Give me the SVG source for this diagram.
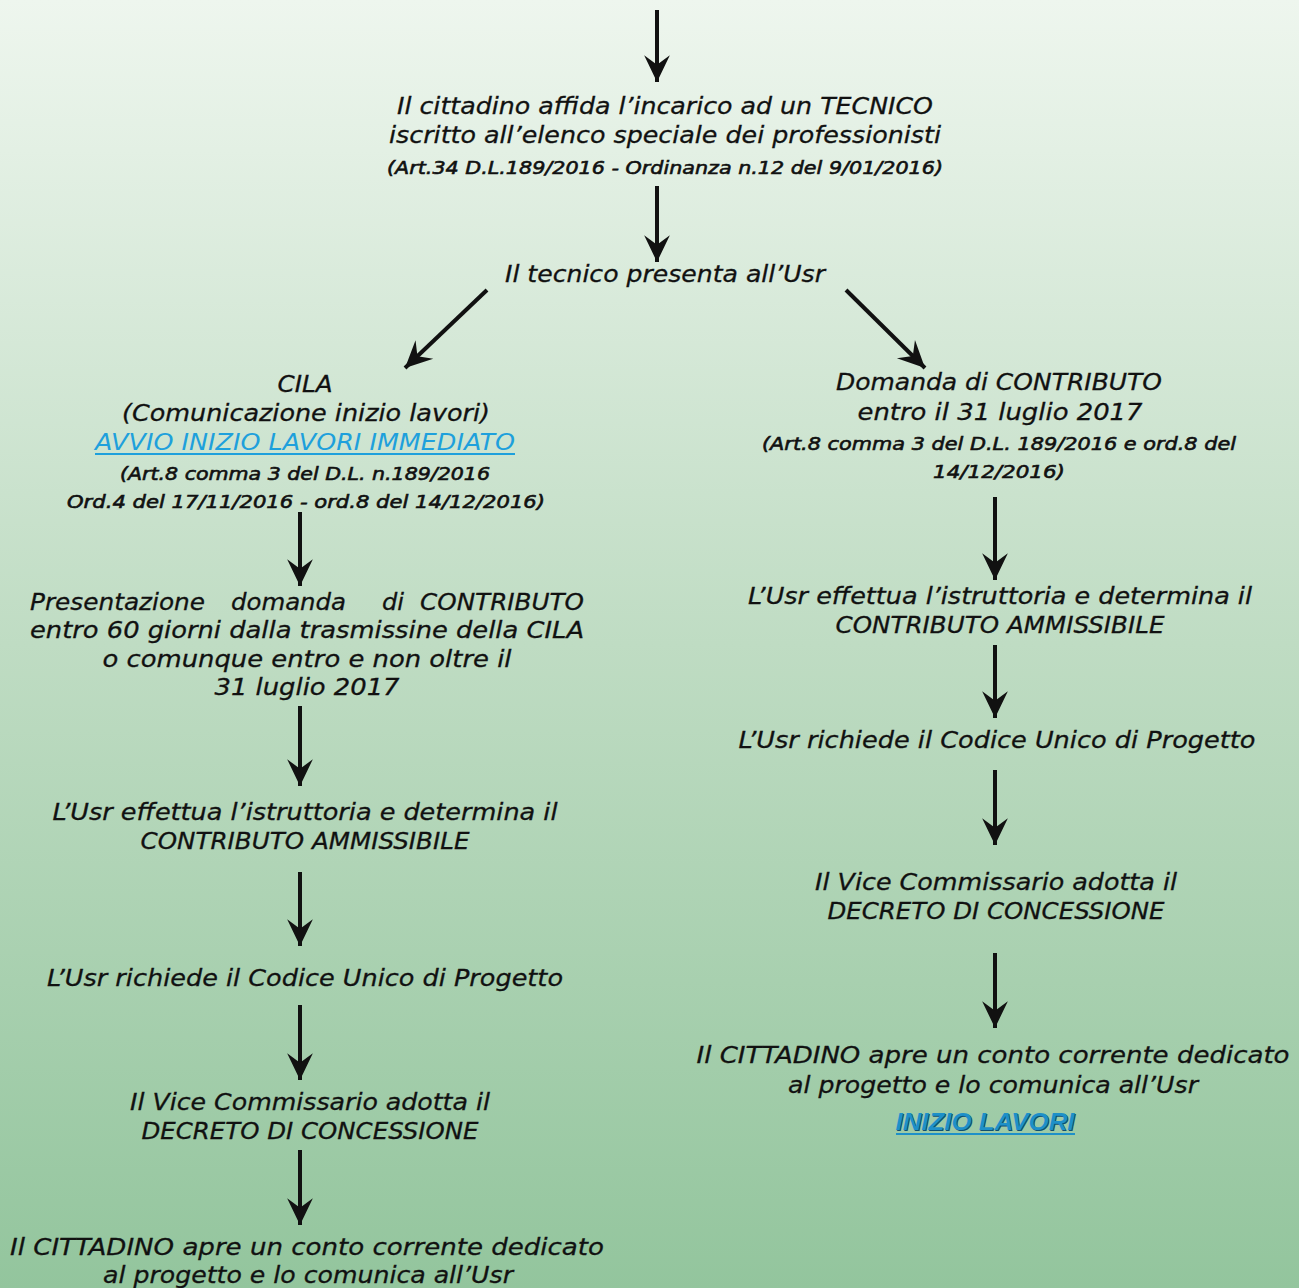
<svg xmlns="http://www.w3.org/2000/svg" width="1299" height="1288" viewBox="0 0 1299 1288">
<defs>
<linearGradient id="bg" x1="0" y1="0" x2="0" y2="1">
<stop offset="0" stop-color="#eef6ee"/>
<stop offset="0.5" stop-color="#bfdcc3"/>
<stop offset="1" stop-color="#93c59d"/>
</linearGradient>
<marker id="ah" markerUnits="userSpaceOnUse" markerWidth="30" markerHeight="30" viewBox="-26 -13 28 26" refX="0" refY="0" orient="auto">
<path d="M0,0 L-25,-12 L-16,0 L-25,12 Z" fill="#111"/>
</marker>
</defs>
<style>
.t{font-family:"DejaVu Sans",Verdana,sans-serif;font-style:italic;font-size:23px;fill:#111;stroke:#111;stroke-width:0.3px;text-anchor:middle}
.s{font-family:"DejaVu Sans",Verdana,sans-serif;font-style:italic;font-size:18px;fill:#111;stroke:#111;stroke-width:0.6px;text-anchor:middle}
.l{text-anchor:start}
.r{text-anchor:end}
.lk{fill:#1ea0dc;stroke:none}
.c{stroke:#111;stroke-width:4;fill:none;marker-end:url(#ah)}
</style>
<rect width="1299" height="1288" fill="url(#bg)"/>
<g id="connectors">
<path class="c" d="M657,10 V82"/>
<path class="c" d="M657,186 V262"/>
<path class="c" d="M487,290 L405,368"/>
<path class="c" d="M846,290 L925,368"/>
<path class="c" d="M300,512 V586"/>
<path class="c" d="M300,706 V786"/>
<path class="c" d="M300,872 V946"/>
<path class="c" d="M300,1005 V1080"/>
<path class="c" d="M300,1150 V1225"/>
<path class="c" d="M995,497 V580"/>
<path class="c" d="M995,645 V718"/>
<path class="c" d="M995,770 V845"/>
<path class="c" d="M995,953 V1028"/>
</g>
<g id="n1">
<text class="t" x="665" y="114" textLength="536" lengthAdjust="spacingAndGlyphs">Il cittadino affida l’incarico ad un TECNICO</text>
<text class="t" x="665" y="143" textLength="552" lengthAdjust="spacingAndGlyphs">iscritto all’elenco speciale dei professionisti</text>
<text class="s" x="665" y="174" textLength="556" lengthAdjust="spacingAndGlyphs">(Art.34 D.L.189/2016 - Ordinanza n.12 del 9/01/2016)</text>
</g>
<g id="n2">
<text class="t" x="665" y="282" textLength="320" lengthAdjust="spacingAndGlyphs">Il tecnico presenta all’Usr</text>
</g>
<g id="n3">
<text class="t" x="305" y="392" textLength="55" lengthAdjust="spacingAndGlyphs">CILA</text>
<text class="t" x="306" y="421" textLength="368" lengthAdjust="spacingAndGlyphs">(Comunicazione inizio lavori)</text>
<text class="t lk" x="305" y="450" textLength="420" lengthAdjust="spacingAndGlyphs">AVVIO INIZIO LAVORI IMMEDIATO</text>
<rect x="95" y="453" width="420" height="2" fill="#1ea0dc"/>
<text class="s" x="305" y="480" textLength="370" lengthAdjust="spacingAndGlyphs">(Art.8 comma 3 del D.L. n.189/2016</text>
<text class="s" x="306" y="508" textLength="478" lengthAdjust="spacingAndGlyphs">Ord.4 del 17/11/2016 - ord.8 del 14/12/2016)</text>
</g>
<g id="n4">
<text class="t" x="999" y="390" textLength="326" lengthAdjust="spacingAndGlyphs">Domanda di CONTRIBUTO</text>
<text class="t" x="1000" y="420" textLength="285" lengthAdjust="spacingAndGlyphs">entro il 31 luglio 2017</text>
<text class="s" x="999" y="450" textLength="474" lengthAdjust="spacingAndGlyphs">(Art.8 comma 3 del D.L. 189/2016 e ord.8 del</text>
<text class="s" x="999" y="478" textLength="132" lengthAdjust="spacingAndGlyphs">14/12/2016)</text>
</g>
<g id="n5">
<text class="t l" x="30" y="610" textLength="175" lengthAdjust="spacingAndGlyphs">Presentazione</text>
<text class="t l" x="231" y="610" textLength="115" lengthAdjust="spacingAndGlyphs">domanda</text>
<text class="t l" x="382" y="610" textLength="22" lengthAdjust="spacingAndGlyphs">di</text>
<text class="t r" x="584" y="610" textLength="164" lengthAdjust="spacingAndGlyphs">CONTRIBUTO</text>
<text class="t" x="307" y="638" textLength="554" lengthAdjust="spacingAndGlyphs">entro 60 giorni dalla trasmissine della CILA</text>
<text class="t" x="307" y="667" textLength="409" lengthAdjust="spacingAndGlyphs">o  comunque entro e non oltre il</text>
<text class="t" x="307" y="695" textLength="185" lengthAdjust="spacingAndGlyphs">31 luglio 2017</text>
</g>
<g id="n6">
<text class="t" x="305" y="820" textLength="505" lengthAdjust="spacingAndGlyphs">L’Usr effettua l’istruttoria e determina il</text>
<text class="t" x="305" y="849" textLength="329" lengthAdjust="spacingAndGlyphs">CONTRIBUTO AMMISSIBILE</text>
</g>
<g id="n7">
<text class="t" x="305" y="986" textLength="516" lengthAdjust="spacingAndGlyphs">L’Usr richiede il Codice Unico di Progetto</text>
</g>
<g id="n8">
<text class="t" x="310" y="1110" textLength="360" lengthAdjust="spacingAndGlyphs">Il Vice Commissario adotta il</text>
<text class="t" x="310" y="1139" textLength="337" lengthAdjust="spacingAndGlyphs">DECRETO DI CONCESSIONE</text>
</g>
<g id="n9">
<text class="t" x="307" y="1255" textLength="594" lengthAdjust="spacingAndGlyphs">Il CITTADINO apre un conto corrente dedicato</text>
<text class="t" x="308" y="1283" textLength="410" lengthAdjust="spacingAndGlyphs">al progetto e lo comunica all’Usr</text>
</g>
<g id="n10">
<text class="t" x="1000" y="604" textLength="504" lengthAdjust="spacingAndGlyphs">L’Usr effettua l’istruttoria e determina il</text>
<text class="t" x="1000" y="633" textLength="329" lengthAdjust="spacingAndGlyphs">CONTRIBUTO AMMISSIBILE</text>
</g>
<g id="n11">
<text class="t" x="997" y="748" textLength="517" lengthAdjust="spacingAndGlyphs">L’Usr richiede il Codice Unico di Progetto</text>
</g>
<g id="n12">
<text class="t" x="996" y="890" textLength="362" lengthAdjust="spacingAndGlyphs">Il Vice Commissario adotta il</text>
<text class="t" x="996" y="919" textLength="337" lengthAdjust="spacingAndGlyphs">DECRETO DI CONCESSIONE</text>
</g>
<g id="n13">
<text class="t" x="993" y="1063" textLength="593" lengthAdjust="spacingAndGlyphs">Il CITTADINO apre un conto corrente dedicato</text>
<text class="t" x="993" y="1093" textLength="410" lengthAdjust="spacingAndGlyphs">al progetto e lo comunica all’Usr</text>
<text x="986" y="1131" textLength="179" lengthAdjust="spacingAndGlyphs" font-family="Liberation Sans, Arial, sans-serif" font-style="italic" font-weight="bold" font-size="23" fill="#0f4f70" text-anchor="middle">INIZIO LAVORI</text>
<text x="985" y="1130" textLength="179" lengthAdjust="spacingAndGlyphs" font-family="Liberation Sans, Arial, sans-serif" font-style="italic" font-weight="bold" font-size="23" fill="#1e90c8" text-anchor="middle">INIZIO LAVORI</text>
<rect x="896" y="1133" width="179" height="2" fill="#1e90c8"/>
</g>
</svg>
